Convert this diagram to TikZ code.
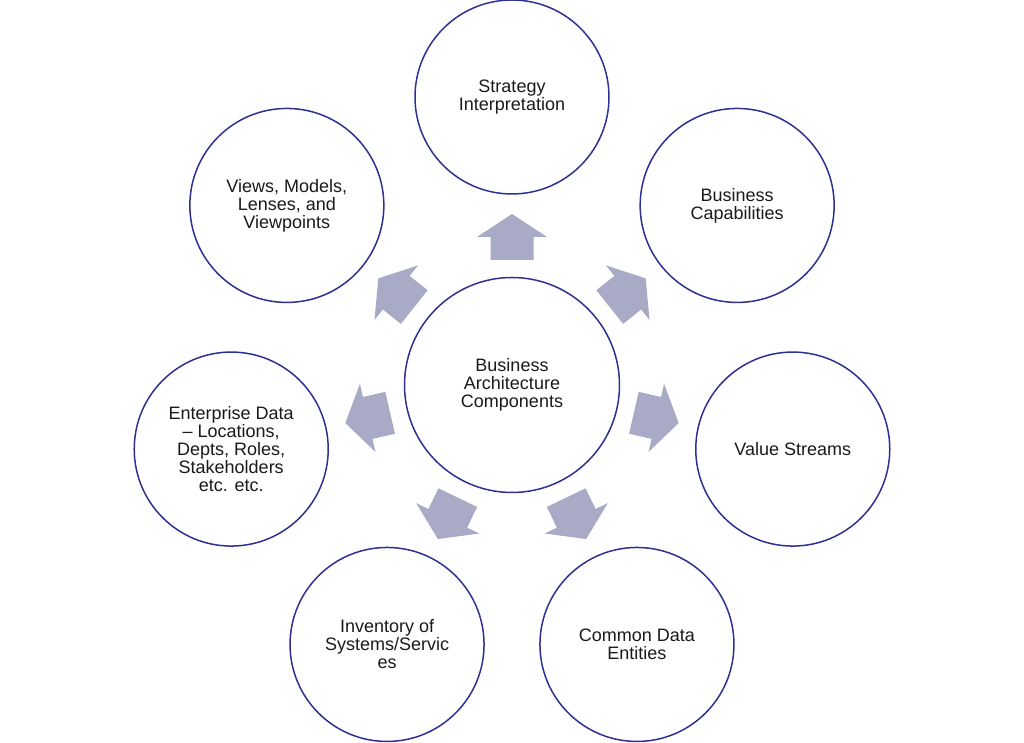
\documentclass[tikz,border=0pt]{standalone}
\usepackage{fontspec}
\setmainfont{Liberation Sans}
\usepackage{tikz}
\usetikzlibrary{calc}

\definecolor{ringblue}{RGB}{46,49,146}
\definecolor{arrowgray}{RGB}{169,170,198}
\definecolor{textgray}{RGB}{26,26,26}

\begin{document}
\begin{tikzpicture}[
            x=0.5pt, y=0.5pt,
            ring/.style={circle, draw=ringblue, line width=0.75pt, fill=white,
                align=center, text=textgray, inner sep=0pt,
                font=\fontsize{9}{9}\selectfont},
    ]
    \useasboundingbox (0, 0) rectangle (1024, 743);

    \node[ring, minimum size=107.5pt] (core) at (512, 358)
        {Business\\Architecture\\Components};

    % block arrows pointing out of the core
    \foreach \ang in {90, 38.571, -12.857, -64.286, -115.714, -167.143, 141.429} {
        \begin{scope}[shift={(core.center)}, rotate=\ang]
            \fill[arrowgray] (125, -21.5) -- (148, -21.5) -- (148, -35)
                -- (171, 0) -- (148, 35) -- (148, 21.5) -- (125, 21.5) -- cycle;
        \end{scope}
    }

    % outer circles
    \foreach \ang/\name/\txt in {
            90/strategy/{Strategy\\Interpretation},
            38.571/capab/{Business\\Capabilities},
            -12.857/streams/{Value Streams},
            -64.286/entities/{Common Data\\Entities},
            -115.714/inventory/{Inventory  of\\Systems/Servic\\es},
            -167.143/enterprise/{Enterprise Data\\-- Locations,\\Depts, Roles,\\Stakeholders\\etc. etc.},
            141.429/views/{Views, Models,\\Lenses, and\\Viewpoints}} {
        \node[ring, minimum size=97pt] (\name) at ([shift={(\ang:288)}]core.center) {\txt};
    }
\end{tikzpicture}
\end{document}
